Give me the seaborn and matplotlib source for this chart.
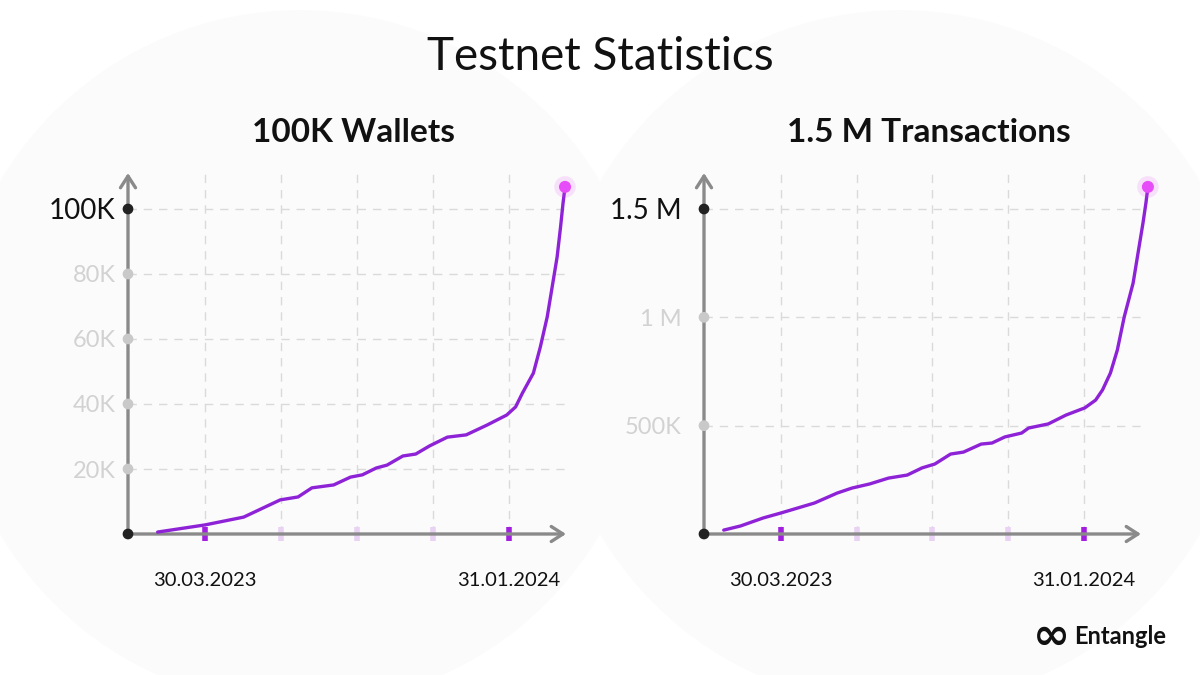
import numpy as np
import pandas as pd
import seaborn as sns
import matplotlib.pyplot as plt
from matplotlib.patches import Ellipse

# days relative to 30.03.2023
wallet_days = [-48, 0, 39, 76, 94, 108, 130, 147, 159, 173, 184, 200, 213, 227,
               245, 264, 285, 305, 314, 321, 332, 339, 346, 351, 356, 359.5,
               362, 364]
wallet_values = [600, 2800, 5200, 10500, 11400, 14200, 15100, 17500, 18200, 20300,
                 21200, 24000, 24600, 27100, 29800, 30500, 33500, 36600, 39100,
                 43400, 49500, 57500, 66800, 76000, 85200, 94500, 101800, 106800]

tx_days = [-58, -41, -18, 0, 34, 57, 72, 90, 109, 128, 143, 156, 172, 185, 203,
           214, 227, 244, 251, 271, 289, 308, 319, 326, 334, 341, 348, 357, 362,
           367, 370, 372]
tx_values = [18000, 37000, 74000, 97000, 143000, 189000, 212000, 231000, 258000,
             272000, 305000, 323000, 369000, 378000, 415000, 420000, 448000,
             466000, 489000, 508000, 549000, 582000, 618000, 665000, 743000,
             849000, 1002000, 1158000, 1297000, 1435000, 1528000, 1602000]

wallet_ticks = [0, 20000, 40000, 60000, 80000, 100000]
wallet_labels = ["", "20K", "40K", "60K", "80K", "100K"]
tx_ticks = [0, 500000, 1000000, 1500000]
tx_labels = ["", "500K", "1 M", "1.5 M"]

date_ticks = [0, 76.75, 153.5, 230.25, 307]
date_labels = ["30.03.2023", "", "", "", "31.01.2024"]

LINE = "#8e22d6"
DOT = "#e64cf7"
GRID = "#dadada"
AXIS = "#8a8a8a"
FONT = ["Lato", "DejaVu Sans"]

sns.set_theme(style="white")
plt.rcParams["font.family"] = FONT

fig = plt.figure(figsize=(12, 6.75), dpi=100)
fig.patch.set_facecolor("white")

# faint background shape
for cx in (0.25, 0.75):
    fig.patches.append(Ellipse((cx, 0.47), 0.58, 1.03, transform=fig.transFigure,
                               facecolor="#fbfbfb", edgecolor="none", zorder=-5))

fig.text(0.5, 0.915, "Testnet Statistics", ha="center", va="center",
         fontsize=33, color="#111111")


def draw_panel(rect, days, values, yticks, ylabels, ytop, title, label_pad):
    ax = fig.add_axes(rect)
    ax.set_facecolor("none")
    df = pd.DataFrame({"day": days, "value": values})
    sns.lineplot(data=df, x="day", y="value", ax=ax, color=LINE, lw=2.4,
                 zorder=5, clip_on=False)
    ax.set_xlim(-78, 365)
    ax.set_ylim(0, ytop)
    ax.set_xlabel("")
    ax.set_ylabel("")
    for s in ax.spines.values():
        s.set_visible(False)

    # grid
    ax.set_xticks(date_ticks, date_labels)
    ax.set_yticks(yticks, ylabels)
    ax.grid(True, color=GRID, linestyle=(0, (6, 5)), lw=1)

    # axis arrows
    arrow = dict(arrowstyle="->,head_length=0.7,head_width=0.45", color=AXIS,
                 lw=2.4, shrinkA=0, shrinkB=0)
    ax.annotate("", xy=(0, 1), xytext=(0, 0), xycoords="axes fraction",
                arrowprops=arrow, zorder=4)
    ax.annotate("", xy=(1, 0), xytext=(0, 0), xycoords="axes fraction",
                arrowprops=arrow, zorder=4)

    # y tick dots and labels
    cols = ["#222222"] + ["#c9c9c9"] * (len(yticks) - 2) + ["#222222"]
    ax.scatter([-78] * len(yticks), yticks, s=45, c=cols, zorder=6, clip_on=False)
    ax.tick_params(axis="y", length=0, pad=label_pad)
    for lab, c in zip(ax.get_yticklabels(), cols):
        lab.set_color("#111111" if c == "#222222" else "#d2d2d2")
        lab.set_fontsize(20 if c == "#222222" else 17)

    # x ticks as purple marks
    ax.tick_params(axis="x", direction="inout", length=10, width=4, pad=22,
                   labelsize=14.5, labelcolor="#111111", bottom=True)
    for i, t in enumerate(ax.xaxis.get_major_ticks()):
        strong = date_labels[i] != ""
        t.tick1line.set_markeredgecolor("#a21fe0" if strong else "#ead2f5")
        t.tick1line.set_zorder(7)

    # glowing end point
    ax.scatter([days[-1]], [values[-1]], s=240, color=DOT, alpha=0.15,
               zorder=7, clip_on=False, edgecolor="none")
    ax.scatter([days[-1]], [values[-1]], s=75, color=DOT, zorder=8,
               clip_on=False, edgecolor="none")

    cx = rect[0] + rect[2] * 0.515
    fig.text(cx, 1 - 133 / 675, title, ha="center", va="center",
             fontsize=24, fontweight="bold", color="#111111")
    return ax


draw_panel([128 / 1200, 1 - 534 / 675, 438 / 1200, 361 / 675],
           wallet_days, wallet_values, wallet_ticks, wallet_labels,
           361 / 325 * 100000, "100K Wallets", 9)
draw_panel([704 / 1200, 1 - 534 / 675, 437 / 1200, 361 / 675],
           tx_days, tx_values, tx_ticks, tx_labels,
           361 / 325 * 1500000, "1.5 M Transactions", 16)

# brand mark
fig.text(1051 / 1200, 1 - 636 / 675, "∞", ha="center", va="center",
         fontsize=32, fontweight="bold", color="#111111", family="DejaVu Sans")
fig.text(1074 / 1200, 1 - 637 / 675, "Entangle", ha="left", va="center",
         fontsize=17, fontweight="bold", color="#111111")

fig.savefig("out.png", dpi=100)
